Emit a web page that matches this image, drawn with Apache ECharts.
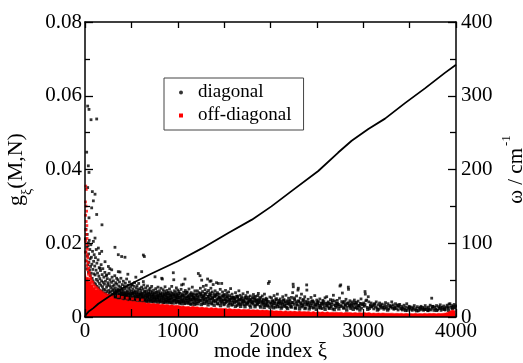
<!DOCTYPE html>
<html>
<head>
<meta charset="utf-8">
<script src="https://cdn.jsdelivr.net/npm/echarts@6/dist/echarts.min.js"></script>
<style>html,body{margin:0;padding:0;background:#fff}#c{width:523px;height:363px}</style>
</head>
<body>
<div id="c"></div>
<script>
// ---- data ----
var xTicks = [0, 1000, 2000, 3000, 4000];
var leftTicks = [0, 0.02, 0.04, 0.06, 0.08];
var rightTicks = [0, 100, 200, 300, 400];

// omega (cm^-1) vs mode index (right axis)
var omegaMode = [0,10,36,90,144,252,359,467,719,1006,1260,1545,1800,2010,2230,2515,2730,2875,3055,3235,3450,3665,3880,4000];
var omegaVal  = [0,3,7,12,18,27,36,43,59,76,93,114,132,150,171,198,223,239,255,269,290,310,331,342];

// diagonal couplings g (black dots): scattered points
var diagonal = [
[29,0.0572],[43,0.0563],[65,0.0535],[126,0.0537],[18,0.0447],[36,0.041],[43,0.0392],[29,0.0351],[79,0.034],[108,0.0333],[90,0.0315],[126,0.0278],[72,0.0296],[43,0.0269],[183,0.025],[65,0.0233],[108,0.0214],[36,0.0201],[90,0.0205],[144,0.0187],[180,0.0178],[323,0.0189],[359,0.0169],[395,0.0164],[431,0.0162],[640,0.0164],[629,0.0168],[216,0.015],[252,0.0137],[162,0.0132],[288,0.0128],[234,0.0114],[359,0.0123],[341,0.0105],[611,0.0123],[629,0.0096],[503,0.0087],[952,0.012],[1240,0.0112],[1258,0.01],[1078,0.0103],[834,0.0103],[1359,0.0098],[1438,0.0091],[1042,0.0087],
[4,0.0212],[7,0.0176],[11,0.0238],[13,0.0152],[19,0.0189],[21,0.0131],[24,0.0224],[26,0.0165],[31,0.0142],[33,0.0193],[37,0.0121],[39,0.0171],[42,0.0149],[46,0.0208],[49,0.0128],[52,0.0183],[55,0.0158],[57,0.0112],[60,0.0137],[63,0.0196],[67,0.0119],[69,0.0162],[74,0.0143],[77,0.0105],[81,0.0178],[84,0.0129],[87,0.0098],[93,0.0151],[96,0.0117],[99,0.0169],
[102,0.0092],[105,0.0138],[109,0.0114],[113,0.0161],[116,0.0088],[119,0.0127],[123,0.0102],[128,0.0146],[131,0.0083],[135,0.0119],[138,0.0097],[141,0.0155],[146,0.0079],[149,0.0111],[153,0.0134],[156,0.0091],[160,0.0104],[164,0.0073],[167,0.0126],[171,0.0086],[174,0.0142],[178,0.0098],[182,0.0069],[185,0.0115],[189,0.0082],[192,0.0131],[195,0.0094],[198,0.0075],[157,0.0172],[121,0.0183],
[203,0.0108],[206,0.0066],[210,0.0089],[214,0.0121],[217,0.0074],[221,0.0097],[225,0.0063],[229,0.0112],[233,0.0081],[236,0.0069],[240,0.0104],[244,0.0087],[247,0.0059],[251,0.0093],[255,0.0072],[259,0.0118],[262,0.0064],[266,0.0085],[270,0.0101],[273,0.0068],[277,0.0079],[281,0.0057],[285,0.0094],[289,0.0071],[292,0.0108],[296,0.0062],[299,0.0083],[268,0.0131],
[303,0.0075],[306,0.0098],[310,0.0058],[313,0.0087],[317,0.0066],[321,0.0112],[324,0.0054],[328,0.0079],[332,0.0093],[335,0.0061],[339,0.0072],[343,0.0089],[347,0.0056],[350,0.0067],[354,0.0101],[358,0.0076],[361,0.0053],[365,0.0084],[369,0.0062],[372,0.0095],[376,0.0071],[380,0.0058],[384,0.0081],[387,0.0105],[391,0.0065],[395,0.0052],[398,0.0077],[377,0.0122],
[402,0.0088],[405,0.0061],[409,0.0073],[413,0.0097],[416,0.0055],[420,0.0068],[424,0.0084],[427,0.0051],[431,0.0076],[435,0.0092],[438,0.0059],[442,0.0065],[446,0.0081],[449,0.0103],[453,0.0057],[457,0.0071],[460,0.0049],[464,0.0086],[468,0.0063],[471,0.0078],[475,0.0053],[479,0.0095],[482,0.0067],[486,0.0074],[490,0.0048],[493,0.0082],[497,0.0061],[462,0.0116],
[502,0.0069],[506,0.0052],[510,0.0088],[513,0.0064],[517,0.0075],[521,0.0047],[524,0.0058],[528,0.0083],[532,0.0066],[535,0.0093],[539,0.0054],[543,0.0071],[546,0.0046],[550,0.0062],[554,0.0079],[557,0.0057],[561,0.0085],[565,0.0049],[568,0.0068],[572,0.0074],[576,0.0053],[579,0.0091],[583,0.0061],[587,0.0045],[590,0.0077],[594,0.0059],[598,0.0066],[548,0.0108],
[602,0.0072],[606,0.0049],[610,0.0081],[614,0.0058],[618,0.0064],[622,0.0044],[626,0.0076],[630,0.0053],[634,0.0087],[638,0.0061],[642,0.0047],[646,0.0069],[650,0.0055],[654,0.0079],[658,0.0042],[662,0.0063],[666,0.0071],[670,0.0051],[674,0.0084],[678,0.0057],[682,0.0046],[686,0.0066],[690,0.0074],[694,0.0052],[698,0.0061],
[703,0.0078],[707,0.0045],[711,0.0062],[715,0.0054],[719,0.0083],[723,0.0049],[727,0.0067],[731,0.0041],[735,0.0059],[739,0.0073],[743,0.0051],[747,0.0064],[751,0.0044],[755,0.0109],[759,0.0056],[763,0.0077],[767,0.0048],[771,0.0061],[775,0.0069],[779,0.0043],[783,0.0058],[787,0.0081],[791,0.0052],[795,0.0065],[799,0.0047],
[803,0.0071],[807,0.0055],[811,0.0042],[815,0.0063],[819,0.0078],[823,0.0049],[827,0.0105],[831,0.0058],[835,0.0066],[839,0.0045],[843,0.0074],[847,0.0053],[851,0.0061],[855,0.0039],[859,0.0069],[863,0.0082],[867,0.0047],[871,0.0057],[875,0.0064],[879,0.0043],[883,0.0072],[887,0.0051],[891,0.0059],[895,0.0046],[899,0.0067],
[903,0.0054],[907,0.0041],[911,0.0076],[915,0.0062],[919,0.0048],[923,0.0057],[927,0.0068],[931,0.0039],[935,0.0083],[939,0.0052],[943,0.0064],[947,0.0044],[957,0.0101],[961,0.0059],[965,0.0071],[969,0.0046],[973,0.0055],[977,0.0066],[981,0.0038],[985,0.0079],[989,0.0051],[993,0.0061],[997,0.0043],[999,0.0073],
[1004,0.0058],[1009,0.0042],[1013,0.0069],[1018,0.0053],[1022,0.0037],[1027,0.0064],[1031,0.0047],[1036,0.0075],[1040,0.0056],[1045,0.0041],[1049,0.0061],[1054,0.0049],[1060,0.0089],[1063,0.0067],[1067,0.0044],[1072,0.0058],[1076,0.0036],[1081,0.0072],[1085,0.0051],[1090,0.0063],[1094,0.0045],[1099,0.0055],
[1103,0.0068],[1108,0.0039],[1112,0.0057],[1117,0.0049],[1121,0.0076],[1126,0.0043],[1130,0.0062],[1135,0.0052],[1139,0.0035],[1144,0.0066],[1148,0.0047],[1153,0.0058],[1157,0.0081],[1162,0.0041],[1166,0.0055],[1171,0.0063],[1175,0.0038],[1180,0.0049],[1184,0.0071],[1189,0.0044],[1193,0.0059],[1198,0.0036],
[1203,0.0063],[1208,0.0048],[1212,0.0071],[1217,0.0054],[1222,0.0118],[1226,0.0042],[1231,0.0066],[1235,0.0057],[1244,0.0078],[1249,0.0045],[1253,0.0061],[1262,0.0052],[1267,0.0069],[1271,0.0037],[1276,0.0083],[1280,0.0058],[1285,0.0047],[1290,0.0064],[1295,0.0074],
[1302,0.0051],[1307,0.0086],[1312,0.0043],[1317,0.0067],[1322,0.0103],[1327,0.0056],[1332,0.0072],[1337,0.0039],[1342,0.0061],[1347,0.0097],[1352,0.0049],[1357,0.0078],[1362,0.0058],[1367,0.0035],[1372,0.0068],[1377,0.0052],[1382,0.0088],[1387,0.0044],[1392,0.0063],[1397,0.0057],
[1403,0.0071],[1408,0.0041],[1413,0.0059],[1418,0.0093],[1423,0.0048],[1428,0.0066],[1433,0.0035],[1443,0.0054],[1448,0.0062],[1453,0.0043],[1458,0.0075],[1463,0.0051],[1468,0.0038],[1474,0.0091],[1478,0.0057],[1483,0.0068],[1488,0.0046],[1493,0.0055],[1498,0.0033],
[1504,0.0061],[1509,0.0047],[1515,0.0072],[1520,0.0039],[1526,0.0055],[1531,0.0064],[1537,0.0043],[1542,0.0051],[1548,0.0068],[1553,0.0036],[1559,0.0058],[1564,0.0045],[1570,0.0077],[1575,0.0049],[1581,0.0032],[1586,0.0062],[1592,0.0053],[1597,0.0041],
[1605,0.0054],[1611,0.0038],[1617,0.0049],[1623,0.0066],[1629,0.0043],[1635,0.0057],[1641,0.0031],[1647,0.0052],[1653,0.0045],[1659,0.0071],[1665,0.0037],[1671,0.0059],[1677,0.0048],[1683,0.0034],[1689,0.0055],[1695,0.0042],
[1704,0.0063],[1710,0.0046],[1716,0.0033],[1722,0.0052],[1728,0.0041],[1734,0.0058],[1740,0.0036],[1746,0.0049],[1752,0.0067],[1758,0.0039],[1764,0.0054],[1770,0.0044],[1776,0.0031],[1782,0.0057],[1788,0.0047],[1794,0.0038],
[1804,0.0052],[1810,0.0035],[1816,0.0061],[1822,0.0043],[1828,0.0049],[1834,0.0032],[1840,0.0056],[1846,0.0041],[1852,0.0047],[1858,0.0036],[1864,0.0058],[1869,0.0064],[1875,0.0039],[1881,0.0045],[1887,0.003],[1893,0.0053],
[1905,0.0042],[1911,0.0057],[1917,0.0034],[1923,0.0048],[1929,0.0039],[1935,0.0062],[1941,0.0031],[1947,0.0045],[1953,0.0051],[1959,0.0037],[1965,0.0043],[1971,0.0029],[1977,0.0091],[1987,0.0096],[1993,0.0054],
[2004,0.0038],[2011,0.0052],[2018,0.0029],[2025,0.0044],[2032,0.0035],[2039,0.0058],[2046,0.0041],[2053,0.0027],[2060,0.0047],[2067,0.0033],[2074,0.0062],[2081,0.0039],[2088,0.0045],[2095,0.0028],
[2104,0.0049],[2111,0.0036],[2118,0.0042],[2125,0.0027],[2132,0.0055],[2139,0.0038],[2146,0.0046],[2153,0.0031],[2160,0.0041],[2167,0.0059],[2174,0.0026],[2181,0.0044],[2188,0.0035],[2195,0.0051],
[2204,0.0037],[2211,0.0045],[2218,0.0028],[2225,0.0053],[2232,0.0039],[2239,0.0066],[2244,0.0089],[2246,0.0082],[2253,0.0034],[2260,0.0047],[2267,0.0025],[2274,0.0041],[2281,0.0057],[2288,0.0032],[2296,0.0073],[2300,0.0078],
[2306,0.0043],[2313,0.0029],[2320,0.0051],[2327,0.0036],[2334,0.0062],[2341,0.0027],[2348,0.0045],[2355,0.0033],[2362,0.0039],[2369,0.0055],[2376,0.0025],[2383,0.0042],[2390,0.0087],[2392,0.0073],[2397,0.0035],
[2405,0.0048],[2413,0.0031],[2421,0.0039],[2429,0.0026],[2437,0.0053],[2445,0.0036],[2453,0.0044],[2461,0.0024],[2469,0.0041],[2477,0.0058],[2485,0.0033],[2493,0.0029],[2499,0.0046],
[2508,0.0035],[2516,0.0042],[2524,0.0025],[2532,0.0049],[2540,0.0031],[2548,0.0038],[2556,0.0023],[2564,0.0045],[2572,0.0034],[2580,0.0027],[2588,0.0052],[2596,0.0037],
[2606,0.0055],[2614,0.0029],[2622,0.0041],[2630,0.0024],[2638,0.0036],[2646,0.0047],[2654,0.0028],[2662,0.0039],[2670,0.0022],[2678,0.0059],[2686,0.0033],[2694,0.0043],
[2704,0.0026],[2712,0.0037],[2720,0.0045],[2728,0.0029],[2736,0.0034],[2744,0.0051],[2749,0.0084],[2757,0.0087],[2765,0.0031],[2775,0.0065],[2783,0.0039],[2791,0.0024],[2798,0.0042],
[2806,0.0033],[2814,0.0048],[2822,0.0027],[2830,0.0038],[2839,0.0081],[2841,0.0075],[2848,0.0031],[2856,0.0044],[2864,0.0023],[2872,0.0036],[2880,0.0041],[2890,0.0028],[2897,0.0035],
[2904,0.0046],[2912,0.0025],[2920,0.0034],[2928,0.0039],[2936,0.0022],[2944,0.0043],[2952,0.0031],[2960,0.0027],[2968,0.0037],[2976,0.0049],[2984,0.0024],[2993,0.0033],
[3005,0.0038],[3012,0.0029],[3019,0.0069],[3022,0.0062],[3028,0.0044],[3037,0.0046],[3044,0.0026],[3054,0.0055],[3060,0.0041],[3068,0.0023],[3076,0.0032],[3085,0.0038],[3094,0.0027],
[3104,0.0031],[3113,0.0022],[3122,0.0036],[3131,0.0027],[3140,0.0041],[3149,0.0025],[3158,0.0033],[3167,0.0021],[3176,0.0038],[3185,0.0029],[3194,0.0024],
[3204,0.0035],[3213,0.0026],[3222,0.0021],[3231,0.0032],[3240,0.0039],[3249,0.0024],[3258,0.0029],[3267,0.0036],[3276,0.0022],[3285,0.0031],[3294,0.0027],
[3307,0.0041],[3312,0.0024],[3321,0.0033],[3330,0.0021],[3339,0.0028],[3348,0.0036],[3357,0.0023],[3366,0.0031],[3375,0.0019],[3384,0.0027],[3393,0.0034],
[3404,0.0022],[3413,0.0029],[3422,0.0019],[3431,0.0025],[3440,0.0032],[3449,0.0021],[3458,0.0027],[3469,0.0036],[3476,0.0018],[3485,0.0024],[3494,0.0029],
[3506,0.0021],[3517,0.0027],[3528,0.0018],[3539,0.0025],[3550,0.0031],[3561,0.0019],[3572,0.0023],[3583,0.0028],[3594,0.0017],
[3605,0.0024],[3614,0.0019],[3623,0.0029],[3632,0.0021],[3641,0.0026],[3650,0.0018],[3659,0.0023],[3668,0.0031],[3677,0.002],[3686,0.0025],[3695,0.0017],
[3704,0.0027],[3713,0.0021],[3722,0.0032],[3731,0.0019],[3738,0.0051],[3745,0.0024],[3754,0.0029],[3763,0.0018],[3772,0.0026],[3781,0.0022],[3790,0.0031],
[3803,0.0019],[3812,0.0028],[3821,0.0023],[3830,0.0033],[3839,0.0018],[3848,0.0026],[3857,0.0021],[3866,0.003],[3875,0.0024],[3884,0.0019],[3893,0.0027],
[3904,0.0032],[3912,0.0024],[3917,0.0027],[3925,0.0035],[3935,0.0036],[3944,0.0026],[3953,0.0031],[3962,0.0022],[3971,0.0029],[3980,0.0034],[3990,0.0025],[3996,0.003]
];

// diagonal couplings: the dense core of the black band just above the red band
var diagonalCore = [
[305,0.0061],[312,0.0052],[319,0.0071],[326,0.0064],[333,0.0051],[341,0.0068],[348,0.0059],[356,0.0049],[363,0.0072],[370,0.0055],[378,0.0063],[385,0.0048],[393,0.0069],[400,0.0057],[407,0.0047],[414,0.0064],[422,0.0053],[429,0.0061],[436,0.0046],[444,0.0058],[451,0.0067],[458,0.0045],[466,0.0054],[473,0.0062],[481,0.0047],[488,0.0059],[495,0.0052],[503,0.0045],[511,0.0063],[518,0.0051],[526,0.0067],[533,0.0044],[541,0.0057],[549,0.0049],[556,0.0065],[563,0.0043],[571,0.0055],[578,0.0061],[586,0.0048],[593,0.0053],[600,0.0043],[608,0.0062],[615,0.0051],[623,0.0056],[631,0.0042],[639,0.0068],[647,0.0048],[655,0.0059],[662,0.0044],[669,0.0054],[677,0.0063],[685,0.0041],[692,0.0057],[700,0.0047],[708,0.0069],[716,0.0042],[724,0.0055],[733,0.0061],[741,0.0046],[749,0.0053],[757,0.0041],[765,0.0066],[773,0.0049],[781,0.0054],[789,0.004],[797,0.0058],[805,0.0046],[813,0.0062],[821,0.0041],[829,0.0052],[837,0.0057],[845,0.004],[853,0.0049],[861,0.0061],[869,0.0043],[877,0.0053],[885,0.0039],[893,0.0064],[901,0.0045],[909,0.0051],[917,0.0039],[925,0.0059],[933,0.0047],[941,0.0055],[949,0.0038],[955,0.0062],[963,0.0044],[971,0.0049],[979,0.0058],[987,0.0041],[995,0.0053],
[1002,0.0047],[1011,0.0063],[1020,0.0039],[1029,0.0054],[1038,0.0045],[1047,0.0036],[1056,0.0058],[1065,0.0042],[1074,0.0051],[1083,0.0038],[1092,0.0066],[1101,0.0044],[1110,0.0052],[1119,0.0037],[1128,0.0057],[1137,0.0046],[1146,0.0035],[1155,0.0061],[1164,0.0048],[1173,0.0053],[1182,0.0034],[1191,0.0051],[1200,0.0042],[1209,0.0059],[1218,0.0036],[1227,0.0049],[1236,0.0044],[1246,0.0063],[1255,0.0034],[1264,0.0056],[1273,0.0045],[1282,0.0052],[1291,0.0037],[1300,0.0061],[1309,0.0041],[1318,0.0049],[1327,0.0033],[1336,0.0055],[1345,0.0046],[1354,0.0064],[1364,0.0038],[1373,0.0051],[1383,0.0043],[1393,0.0032],[1402,0.0056],[1412,0.0045],[1422,0.0061],[1431,0.0037],[1441,0.0049],[1451,0.0053],[1461,0.0031],[1471,0.0046],[1481,0.0041],[1491,0.0059],[1501,0.0036],[1512,0.0049],[1522,0.0043],[1533,0.0057],[1544,0.003],[1555,0.0047],[1566,0.0039],[1577,0.0053],[1588,0.0034],[1599,0.0045],[1611,0.0051],[1622,0.0029],[1633,0.0041],[1644,0.0055],[1656,0.0035],[1667,0.0046],[1678,0.0029],[1690,0.0049],[1701,0.0038],[1713,0.0043],[1725,0.0028],[1737,0.0052],[1749,0.0035],[1761,0.0041],[1773,0.0047],[1785,0.0027],[1797,0.0043],[1809,0.0039],[1821,0.0053],[1833,0.0028],[1845,0.0045],[1857,0.0034],[1870,0.0041],[1882,0.0049],[1894,0.0027],[1907,0.0038],[1919,0.0044],[1932,0.0026],[1944,0.0035],[1957,0.0047],[1969,0.0032],[1982,0.0041],[1995,0.0026],
[2008,0.0035],[2021,0.0043],[2034,0.0025],[2047,0.0037],[2061,0.0049],[2074,0.0028],[2088,0.0036],[2101,0.0041],[2115,0.0024],[2128,0.0034],[2142,0.0046],[2156,0.0029],[2170,0.0037],[2184,0.0023],[2198,0.0042],[2212,0.0033],[2226,0.0027],[2241,0.0039],[2255,0.0051],[2269,0.0024],[2284,0.0035],[2298,0.0043],[2313,0.0022],[2328,0.0038],[2342,0.0031],[2357,0.0047],[2372,0.0023],[2387,0.0034],[2402,0.0039],[2417,0.0022],[2432,0.0031],[2447,0.0042],[2463,0.0027],[2478,0.0035],[2494,0.0021],[2509,0.0039],[2525,0.0031],[2541,0.0025],[2557,0.0036],[2573,0.0041],[2589,0.0021],[2605,0.0032],[2621,0.0037],[2637,0.0024],[2654,0.0033],[2670,0.0045],[2687,0.002],[2703,0.0031],[2720,0.0036],[2737,0.0022],[2754,0.0029],[2771,0.0041],[2788,0.0025],[2805,0.0033],[2822,0.0019],[2840,0.0037],[2857,0.0028],[2875,0.0032],[2892,0.0021],[2910,0.0039],[2928,0.0026],[2946,0.0031],[2964,0.0019],[2982,0.0035],
[3016,0.0033],[3049,0.0021],[3081,0.0029],[3117,0.0034],[3153,0.0019],[3189,0.0031],[3226,0.0026],[3263,0.0019],[3301,0.0029],[3339,0.0024],[3378,0.0032],[3417,0.0023],[3456,0.0018],[3496,0.0026],[3536,0.0022],[3577,0.0017],[3618,0.0025],[3660,0.0021],[3702,0.0019],[3745,0.0028],[3788,0.0018],[3832,0.0025],[3876,0.0021],[3921,0.0018],[3966,0.0025]
];

// off-diagonal couplings: upper edge of the dense red band
var offDiagBand = [
[0,0.0125],[25,0.0108],[50,0.0096],[75,0.0087],[100,0.008],[125,0.0074],[150,0.0069],[175,0.0065],[200,0.006],[225,0.0058],[250,0.0055],[275,0.0053],[300,0.005],[325,0.0049],[350,0.0047],[375,0.0048],[400,0.0045],[425,0.0046],[450,0.0043],[475,0.0044],[500,0.0042],[525,0.0043],[550,0.004],[575,0.0041],[600,0.0039],[625,0.004],[650,0.0037],[675,0.0038],[700,0.0036],[725,0.0037],[750,0.0035],[775,0.0036],[800,0.0034],[825,0.0035],[850,0.0033],[875,0.0034],[900,0.0032],[925,0.0033],[950,0.0031],[975,0.0032],
[1000,0.0031],[1025,0.0029],[1050,0.003],[1075,0.0028],[1100,0.0029],[1125,0.0027],[1150,0.0029],[1175,0.0027],[1200,0.0028],[1225,0.0026],[1250,0.0027],[1275,0.0025],[1300,0.0026],[1325,0.0024],[1350,0.0026],[1375,0.0024],[1400,0.0025],[1425,0.0023],[1450,0.0024],[1475,0.0023],[1500,0.0024],[1525,0.0022],[1550,0.0023],[1575,0.0021],[1600,0.0022],[1625,0.0021],[1650,0.0022],[1675,0.002],[1700,0.0021],[1725,0.002],[1750,0.0021],[1775,0.0019],[1800,0.002],[1825,0.0019],[1850,0.002],[1875,0.0018],[1900,0.0019],[1925,0.0018],[1950,0.0019],[1975,0.0017],
[2000,0.0018],[2025,0.0016],[2050,0.0017],[2075,0.0016],[2100,0.0017],[2125,0.0015],[2150,0.0017],[2175,0.0015],[2200,0.0016],[2225,0.0015],[2250,0.0016],[2275,0.0014],[2300,0.0016],[2325,0.0014],[2350,0.0015],[2375,0.0014],[2400,0.0015],[2425,0.0013],[2450,0.0015],[2475,0.0013],[2500,0.0014],[2525,0.0013],[2550,0.0014],[2575,0.0012],[2600,0.0014],[2625,0.0012],[2650,0.0013],[2675,0.0012],[2700,0.0013],[2725,0.0012],[2750,0.0013],[2775,0.0011],[2800,0.0013],[2825,0.0012],[2850,0.0012],[2875,0.0011],[2900,0.0012],[2925,0.0011],[2950,0.0012],[2975,0.0011],
[3000,0.0012],[3025,0.0011],[3050,0.0012],[3075,0.001],[3100,0.0011],[3125,0.001],[3150,0.0011],[3175,0.001],[3200,0.0011],[3225,0.001],[3250,0.00105],[3275,0.001],[3300,0.00105],[3325,0.00095],[3350,0.001],[3375,0.00095],[3400,0.001],[3425,0.0009],[3450,0.001],[3475,0.0009],[3500,0.00095],[3525,0.0009],[3550,0.001],[3575,0.0009],[3600,0.00095],[3625,0.0009],[3650,0.001],[3675,0.0009],[3700,0.001],[3725,0.00095],[3750,0.001],[3775,0.0009],[3800,0.001],[3825,0.00095],[3850,0.001],[3875,0.0011],[3900,0.0013],[3925,0.0016],[3950,0.0019],[3975,0.0017],[4000,0.0013]
];

// off-diagonal couplings standing above the band
var offDiagSparse = [
[8,0.0355],[14,0.0346],[5,0.0312],[11,0.0301],[17,0.0287],[7,0.0276],[13,0.0259],[20,0.0248],[9,0.0236],[15,0.0224],[22,0.0213],[6,0.0205],[18,0.0196],[26,0.0184],[10,0.0176],[23,0.0168],[30,0.0161],[14,0.0152],[34,0.0147],[19,0.0139],[40,0.0133],[28,0.0128],[46,0.0121],[37,0.0116],[55,0.0112],[62,0.0105],[50,0.0102],[71,0.0098],[84,0.0094],[66,0.0091],[95,0.0087],[108,0.0083],[124,0.0079],[138,0.0076],[155,0.0072],[170,0.0069],[187,0.0066],[205,0.0063],[226,0.0061],[248,0.0058],[271,0.0057],[295,0.0055],[360,0.0056],[402,0.0053],[455,0.0051],[512,0.0049],[566,0.0047],[618,0.0046]
];

// ---- chart ----
var FONT = "'Liberation Serif','Times New Roman',serif";
var omegaData = omegaMode.map(function (m, i) { return [m, omegaVal[i]]; });
var tickStyle = { color: '#000', width: 1.3 };
var lineStyleAx = { color: '#000', width: 1.5 };
function plain(v) { return String(v); }

var chart = echarts.init(document.getElementById('c'), null, { renderer: 'canvas' });
chart.setOption({
  animation: false,
  backgroundColor: '#fff',
  grid: { left: 85, right: 67, top: 22, bottom: 46, containLabel: false, outerBoundsMode: 'none' },
  legend: {
    orient: 'vertical', left: 164, top: 78,
    padding: [5, 12, 5, 15], itemGap: 4, itemWidth: 4, itemHeight: 4,
    borderColor: '#444', borderWidth: 1, backgroundColor: '#fff',
    textStyle: { fontFamily: FONT, fontSize: 19, color: '#000', padding: [0, 0, 0, 10] },
    data: [
      { name: 'diagonal', icon: 'circle', itemStyle: { color: '#000' } },
      { name: 'off-diagonal', icon: 'rect', itemStyle: { color: '#ff0000' } }
    ]
  },
  xAxis: [{
    type: 'value', min: xTicks[0], max: xTicks[xTicks.length - 1], interval: 1000, z: 10,
    name: 'mode index ξ', nameLocation: 'middle', nameGap: 24, nameMoveOverlap: false,
    nameTextStyle: { fontFamily: FONT, fontSize: 21, color: '#000' },
    axisLine: { show: true, onZero: false, lineStyle: lineStyleAx },
    axisTick: { show: true, inside: true, length: 8, lineStyle: tickStyle },
    minorTick: { show: true, splitNumber: 2, length: 8, lineStyle: tickStyle },
    axisLabel: { fontFamily: FONT, fontSize: 21, color: '#000', margin: 4, formatter: plain },
    splitLine: { show: false }
  }, {
    type: 'value', position: 'top', min: 0, max: 4000, interval: 1000, z: 10,
    axisLine: { show: true, onZero: false, lineStyle: lineStyleAx },
    axisTick: { show: true, inside: true, length: 6, lineStyle: tickStyle },
    minorTick: { show: true, splitNumber: 2, length: 6, lineStyle: tickStyle },
    axisLabel: { show: false }, splitLine: { show: false }
  }],
  yAxis: [{
    type: 'value', min: leftTicks[0], max: leftTicks[leftTicks.length - 1], interval: 0.02, z: 10,
    name: '{g|g}{s|ξ}{g|(M,N)}', nameLocation: 'middle', nameRotate: 90, nameGap: 55,
    nameTextStyle: {
      color: '#000',
      rich: {
        g: { fontFamily: FONT, fontSize: 22, color: '#000', lineHeight: 28 },
        s: { fontFamily: FONT, fontSize: 14, color: '#000', lineHeight: 28, verticalAlign: 'bottom', padding: [0, 0, -4, 0] }
      }
    },
    axisLine: { show: true, onZero: false, lineStyle: lineStyleAx },
    axisTick: { show: true, inside: true, length: 8, lineStyle: tickStyle },
    minorTick: { show: true, splitNumber: 2, length: 5, lineStyle: tickStyle },
    axisLabel: { fontFamily: FONT, fontSize: 21, color: '#000', margin: 3, formatter: plain },
    splitLine: { show: false }
  }, {
    type: 'value', position: 'right', min: rightTicks[0], max: rightTicks[rightTicks.length - 1], interval: 100, z: 10,
    name: '{a|ω / cm}{p|-1}', nameLocation: 'middle', nameRotate: 90, nameGap: 48, nameMoveOverlap: false,
    nameTextStyle: {
      color: '#000',
      rich: {
        a: { fontFamily: FONT, fontSize: 21, color: '#000', lineHeight: 24 },
        p: { fontFamily: FONT, fontSize: 13, color: '#000', lineHeight: 24, verticalAlign: 'top', padding: [-4, 0, 0, 2] }
      }
    },
    axisLine: { show: true, onZero: false, lineStyle: lineStyleAx },
    axisTick: { show: true, inside: true, length: 8, lineStyle: tickStyle },
    minorTick: { show: true, splitNumber: 2, length: 6, lineStyle: tickStyle },
    axisLabel: { fontFamily: FONT, fontSize: 21, color: '#000', margin: 5, formatter: plain },
    splitLine: { show: false }
  }],
  series: [
    {
      name: 'diagonal', type: 'scatter', xAxisIndex: 0, yAxisIndex: 0,
      symbol: 'rect', symbolSize: 2.8, itemStyle: { color: '#000' },
      data: diagonal, z: 2
    },
    {
      name: 'diagonal', type: 'scatter', xAxisIndex: 0, yAxisIndex: 0,
      symbol: 'rect', symbolSize: 3.4, itemStyle: { color: '#000' },
      data: diagonalCore, z: 2
    },
    {
      name: 'off-diagonal', type: 'line', xAxisIndex: 0, yAxisIndex: 0,
      step: 'middle', showSymbol: false, symbol: 'none',
      lineStyle: { width: 0.5, color: '#ff0000' }, itemStyle: { color: '#ff0000' },
      areaStyle: { color: '#ff0000', opacity: 1 },
      data: offDiagBand, z: 3
    },
    {
      name: 'off-diagonal', type: 'scatter', xAxisIndex: 0, yAxisIndex: 0,
      symbol: 'rect', symbolSize: 2.8, itemStyle: { color: '#ff0000' },
      data: offDiagSparse, z: 3
    },
    {
      name: 'omega', type: 'line', xAxisIndex: 0, yAxisIndex: 1,
      showSymbol: false, symbol: 'none', smooth: false,
      lineStyle: { color: '#000', width: 1.8 },
      data: omegaData, z: 4
    }
  ]
});
</script>
</body>
</html>
